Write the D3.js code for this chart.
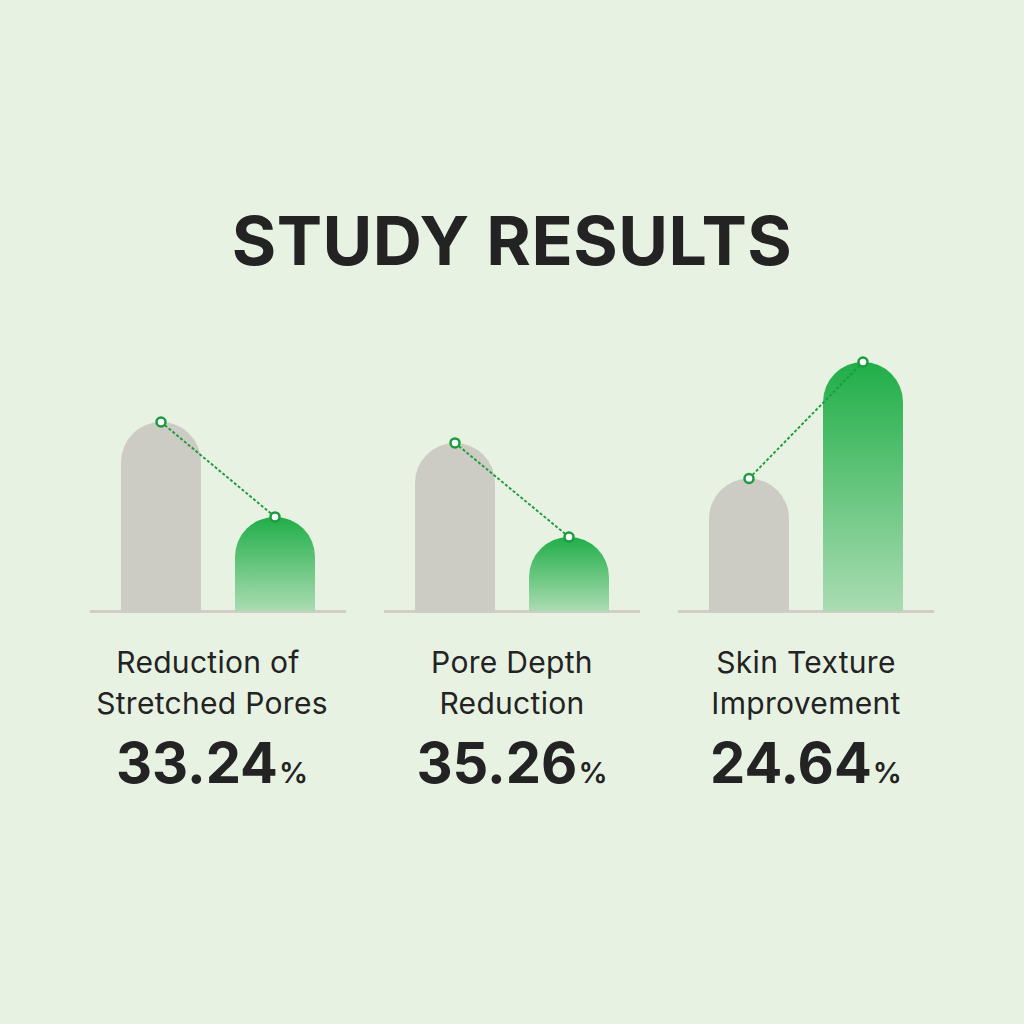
<!DOCTYPE html>
<html><head><meta charset="utf-8">
<script src="https://cdn.jsdelivr.net/npm/d3@7"></script>
<style>html,body{margin:0;padding:0;background:#e8f2e2;}svg{display:block;}</style>
</head><body>
<svg id="c" width="1024" height="1024"></svg>
<script>
const categories = ["Reduction of Stretched Pores", "Pore Depth Reduction", "Skin Texture Improvement"];
const labelLines = [["Reduction of", "Stretched Pores"], ["Pore Depth", "Reduction"], ["Skin Texture", "Improvement"]];
const beforeValues = [75.9, 67.5, 53.2];
const afterValues = [37.8, 29.7, 100];
const percentLabels = ["33.24", "35.26", "24.64"];
const series = ["before", "after"];

const svg = d3.select("#c");
const font = "Inter, 'Noto Sans', sans-serif";
const ink = "#222322";

svg.append("rect").attr("width", 1024).attr("height", 1024).attr("fill", "#e8f2e2");

svg.append("text").attr("x", 512).attr("y", 265).attr("text-anchor", "middle")
  .attr("font-family", font).attr("font-weight", 700).attr("font-size", 68)
  .attr("fill", ink).attr("letter-spacing", 0.5).text("STUDY RESULTS");

const defs = svg.append("defs");
const grad = defs.append("linearGradient").attr("id", "gg").attr("x1", 0).attr("y1", 0).attr("x2", 0).attr("y2", 1);
grad.append("stop").attr("offset", "0%").attr("stop-color", "#20ae48");
grad.append("stop").attr("offset", "100%").attr("stop-color", "#aadcb2");

const panelX = d3.scaleBand().domain(categories).range([90, 934]).paddingInner(38 / 294).paddingOuter(0);
const barX = d3.scaleBand().domain(series).range([0, 194]).paddingInner(34 / 114).paddingOuter(0);
const y = d3.scaleLinear().domain([0, 100]).range([611, 362]);

function barPath(x, w, top, bottom) {
  const r = w / 2;
  return `M${x},${bottom}L${x},${top + r}A${r},${r} 0 0 1 ${x + w},${top + r}L${x + w},${bottom}Z`;
}

categories.forEach((cat, i) => {
  const px = panelX(cat);
  const pw = panelX.bandwidth();
  const g = svg.append("g").attr("transform", `translate(${px},0)`);
  const off = (pw - barX.range()[1]) / 2;
  const vals = [beforeValues[i], afterValues[i]];
  g.append("line").attr("x1", 0).attr("x2", pw).attr("y1", y(0) + 0.5).attr("y2", y(0) + 0.5)
    .attr("stroke", "#cfcdc4").attr("stroke-width", 3);
  series.forEach((s, j) => {
    g.append("path").attr("d", barPath(off + barX(s), barX.bandwidth(), y(vals[j]), y(0)))
      .attr("fill", j === 0 ? "#cdccc4" : "url(#gg)");
  });
  const pts = series.map((s, j) => [off + barX(s) + barX.bandwidth() / 2, y(vals[j])]);
  g.append("line").attr("x1", pts[0][0]).attr("y1", pts[0][1]).attr("x2", pts[1][0]).attr("y2", pts[1][1])
    .attr("stroke", "#1a9c3e").attr("stroke-width", 1.9).attr("stroke-dasharray", "3,2");
  pts.forEach(p => {
    g.append("circle").attr("cx", p[0]).attr("cy", p[1]).attr("r", 4.5)
      .attr("fill", "#ffffff").attr("stroke", "#1a9c3e").attr("stroke-width", 2.5);
  });
  const cx = pw / 2 + (i === 0 ? -6 : 0);
  labelLines[i].forEach((ln, k) => {
    g.append("text").attr("x", cx + (i === 0 && k === 0 ? -4 : 0)).attr("y", 673 + k * 41).attr("text-anchor", "middle")
      .attr("font-family", font).attr("font-weight", 400).attr("font-size", 30)
      .attr("letter-spacing", 0.3).attr("fill", ink).text(ln);
  });
  const t = g.append("text").attr("x", cx).attr("y", 783).attr("text-anchor", "middle")
    .attr("font-family", font).attr("fill", ink);
  t.append("tspan").attr("font-weight", 700).attr("font-size", 56).text(percentLabels[i]);
  t.append("tspan").attr("font-weight", 600).attr("font-size", 29).attr("dx", 1).text("%");
});
</script>
</body></html>
